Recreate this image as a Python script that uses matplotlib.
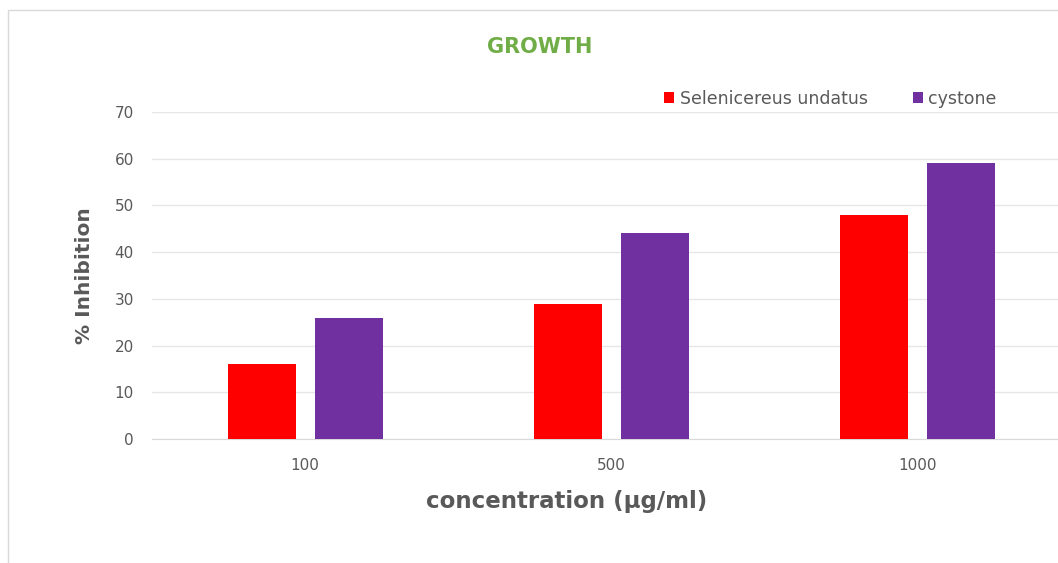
import numpy as np
import matplotlib.pyplot as plt
from matplotlib.patches import Rectangle

# ----- data -----
concentrations = ['100', '500', '1000']
selenicereus = [16, 29, 48]
cystone = [26, 44, 59]

fig = plt.figure(figsize=(10.58, 5.63), dpi=100)
ax = fig.add_axes([0.1437, 0.2202, 0.8686, 0.5808])

# thin frame round the chart area
fig.patches.append(Rectangle((0.008, -0.01), 1.1, 0.993, transform=fig.transFigure,
                             fill=False, edgecolor='#d9d9d9', linewidth=1))

x = np.arange(len(concentrations))
w = 0.222
ax.bar(x - 0.142, selenicereus, w, color='#ff0000', label='Selenicereus undatus', zorder=3)
ax.bar(x + 0.142, cystone, w, color='#7030a0', label='cystone', zorder=3)

ax.set_xlim(-0.5, 2.5)
ax.set_ylim(0, 70)
ax.set_yticks(np.arange(0, 71, 10))
ax.set_xticks(x)
ax.set_xticklabels(concentrations)
ax.tick_params(axis='both', length=0, labelsize=11, labelcolor='#595959')
ax.tick_params(axis='y', pad=13)
ax.tick_params(axis='x', pad=14)
ax.grid(axis='y', color='#e6e6e6', linewidth=1, zorder=0)
for s in ['top', 'right', 'left']:
    ax.spines[s].set_visible(False)
ax.spines['bottom'].set_color('#d9d9d9')

ax.set_ylabel('% Inhibition', fontsize=14.5, fontweight='bold', color='#595959')
ax.yaxis.set_label_coords(-0.063, 0.5)
ax.set_xlabel('concentration (µg/ml)', fontsize=16.5, fontweight='bold', color='#595959')
ax.xaxis.set_label_coords(0.4516, -0.155)

fig.text(0.51, 0.916, 'GROWTH', fontsize=15, fontweight='bold', color='#70ad47',
         ha='center', va='center')

ax.legend(loc='upper left', bbox_to_anchor=(0.54, 1.115), ncol=2, frameon=False,
          fontsize=12.5, handlelength=0.6, handleheight=0.6, handletextpad=0.3,
          columnspacing=2.6, labelcolor='#595959')

fig.savefig('out.png', dpi=100)
